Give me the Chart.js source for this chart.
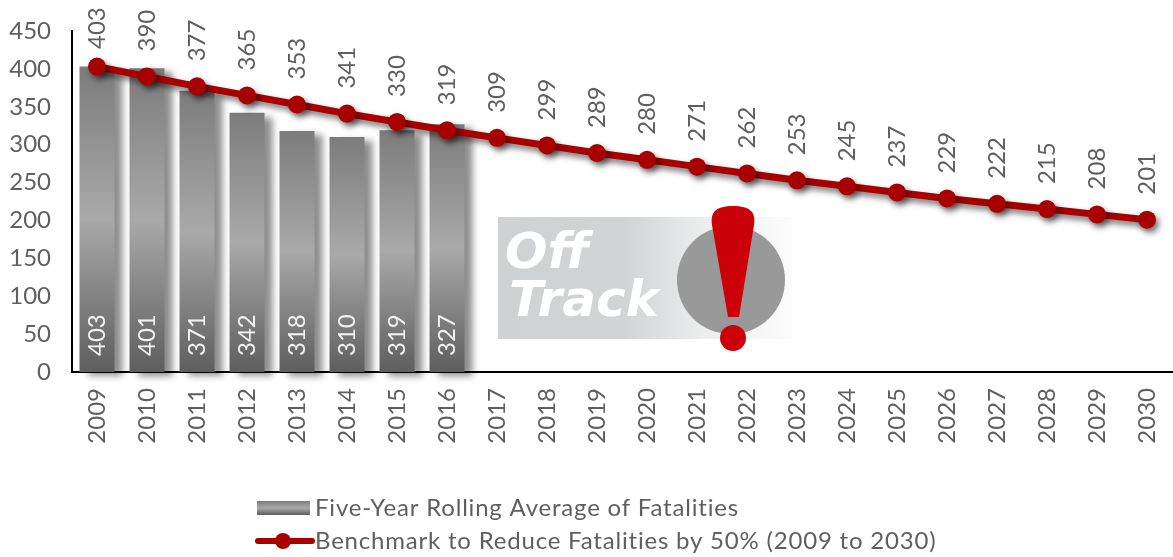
<!DOCTYPE html>
<html><head><meta charset="utf-8">
<style>html,body{margin:0;padding:0;background:#fff}#w{width:1173px;height:557px;position:relative}</style>
<script src="https://cdn.jsdelivr.net/npm/chart.js@4"></script></head>
<body><div id="w"><canvas id="c" width="1173" height="557"></canvas></div>
<script>
const years = ['2009','2010','2011','2012','2013','2014','2015','2016','2017','2018','2019','2020','2021','2022','2023','2024','2025','2026','2027','2028','2029','2030'];
const rollingAverage = [403,401,371,342,318,310,319,327];
const benchmark = [403,390,377,365,353,341,330,319,309,299,289,280,271,262,253,245,237,229,222,215,208,201];
const seriesNames = ['Five-Year Rolling Average of Fatalities','Benchmark to Reduce Fatalities by 50% (2009 to 2030)'];
const FONT = 'Lato';
const TXT = '#5f5f5f';
const RED = '#a80000';

function barGradient(c, top, bottom){
  const g = c.createLinearGradient(0, top, 0, bottom);
  g.addColorStop(0, '#7c7c7c'); g.addColorStop(0.5, '#a9a9a9'); g.addColorStop(1, '#5e5e5e');
  return g;
}
function legendBar(){
  const cv = document.createElement('canvas'); cv.width = 59; cv.height = 16;
  const c = cv.getContext('2d');
  c.fillStyle = barGradient(c, 1, 15); c.fillRect(6, 1, 53, 14);
  return cv;
}
function legendLine(){
  const cv = document.createElement('canvas'); cv.width = 69; cv.height = 18;
  const c = cv.getContext('2d');
  c.strokeStyle = RED; c.lineWidth = 6; c.lineCap = 'round';
  c.beginPath(); c.moveTo(12, 9); c.lineTo(66, 9); c.stroke();
  c.fillStyle = RED; c.beginPath(); c.arc(37, 9, 8, 0, Math.PI*2); c.fill();
  return cv;
}

const shadowPlugin = {
  id: 'shadows',
  beforeDatasetDraw(chart, args){
    const c = chart.ctx; c.save();
    if (args.index === 0){ c.shadowColor='rgba(0,0,0,.45)'; c.shadowBlur=7; c.shadowOffsetX=8; c.shadowOffsetY=4; }
    else { c.shadowColor='rgba(0,0,0,.55)'; c.shadowBlur=6; c.shadowOffsetX=3; c.shadowOffsetY=4; }
  },
  afterDatasetDraw(chart){ chart.ctx.restore(); }
};

const labelsPlugin = {
  id: 'valueLabels',
  afterDatasetsDraw(chart){
    const c = chart.ctx;
    const y = chart.scales.y;
    c.save();
    c.font = '24px ' + FONT;
    c.textBaseline = 'middle'; c.textAlign = 'left';
    chart.getDatasetMeta(0).data.forEach((el,i)=>{
      c.save(); c.translate(el.x, y.bottom - 16); c.rotate(-Math.PI/2);
      c.fillStyle = '#f2f2f2'; c.fillText(String(rollingAverage[i]), 0, 0); c.restore();
    });
    chart.getDatasetMeta(1).data.forEach((el,i)=>{
      c.save(); c.translate(el.x, Math.max(el.y - 25, 49)); c.rotate(-Math.PI/2);
      c.fillStyle = TXT; c.fillText(String(benchmark[i]), 0, 0); c.restore();
    });
    c.restore();
  }
};

const badgePlugin = {
  id: 'offTrack',
  afterDatasetsDraw(chart){
    const c = chart.ctx; c.save();
    const g = c.createLinearGradient(498, 0, 792, 0);
    g.addColorStop(0, '#d0d1d3'); g.addColorStop(0.43, '#d2d3d5');
    g.addColorStop(0.7, '#eceded'); g.addColorStop(1, '#fbfbfb');
    c.fillStyle = g; c.fillRect(498, 217, 294, 122);
    c.fillStyle = '#ffffff';
    c.font = 'italic bold 50px "DejaVu Sans"';
    c.textAlign = 'left'; c.textBaseline = 'alphabetic';
    c.fillText('Off', 505, 268);
    c.fillText('Track', 509, 316);
    c.fillStyle = '#999999';
    c.beginPath(); c.arc(731, 280, 54, 0, Math.PI*2); c.fill();
    c.fillStyle = '#cc0008';
    c.beginPath();
    c.moveTo(728, 317); c.lineTo(712, 225);
    c.bezierCurveTo(710, 212, 716, 206, 733, 206);
    c.bezierCurveTo(750, 206, 756, 212, 754, 225);
    c.lineTo(739, 317); c.closePath(); c.fill();
    c.beginPath(); c.arc(733, 338, 13, 0, Math.PI*2); c.fill();
    c.restore();
  }
};

const legendPos = {
  id: 'legendPos',
  afterInit(chart){
    const l = chart.legend, d = l.draw;
    l.draw = function(){
      chart.ctx.letterSpacing = '0.8px';
      d.apply(l, arguments);
      chart.ctx.letterSpacing = '0px';
    };
  },
  afterLayout(chart){ const l = chart.legend; l.left = 249; l.top = 487; }
};

new Chart(document.getElementById('c'), {
  data: {
    labels: years,
    datasets: [
      { type:'bar', label: seriesNames[0], data: rollingAverage, order:2, clip:false,
        barPercentage:0.7, categoryPercentage:1, borderWidth:0,
        backgroundColor(ctx){
          const y = ctx.chart.scales.y;
          if(!y || ctx.parsed===undefined || ctx.parsed.y===undefined) return '#888';
          return barGradient(ctx.chart.ctx, y.getPixelForValue(ctx.parsed.y), y.bottom);
        } },
      { type:'line', label: seriesNames[1], data: benchmark, order:1, clip:false,
        borderColor:RED, borderWidth:7, tension:0, backgroundColor:RED,
        pointRadius:9, pointBackgroundColor:RED, pointBorderColor:RED, pointBorderWidth:0 }
    ]
  },
  options: {
    responsive:false, animation:false, devicePixelRatio:1,
    layout:{ autoPadding:false, padding:{ top:31, left:0, right:1, bottom:0 } },
    plugins:{
      tooltip:{enabled:false},
      legend:{
        display:true, position:'bottom', align:'start', maxWidth:700,
        labels:{
          color:TXT, font:{family:FONT, size:24}, padding:9,
          usePointStyle:true, pointStyleWidth:45, boxHeight:24,
          generateLabels(chart){
            return [
              {text:seriesNames[0], pointStyle:legendBar(), datasetIndex:0, fontColor:TXT, lineWidth:0, hidden:false},
              {text:seriesNames[1], pointStyle:legendLine(), datasetIndex:1, fontColor:TXT, lineWidth:0, hidden:false}
            ];
          }
        }
      }
    },
    scales:{
      x:{
        offset:true,
        grid:{display:false, drawTicks:false},
        border:{display:true,color:'#000',width:2},
        ticks:{color:TXT,font:{family:FONT,size:24},minRotation:90,maxRotation:90,padding:16,autoSkip:false},
        afterFit(s){ s.height = 142; s.paddingLeft = 0; s.paddingRight = 0; }
      },
      y:{
        min:0,max:450,
        grid:{display:false, drawTicks:false},
        border:{display:true,color:'#000',width:2},
        ticks:{color:TXT,font:{family:FONT,size:24},stepSize:50,padding:21},
        afterFit(s){ s.width = 72; s.paddingTop = 0; s.paddingBottom = 0; }
      }
    }
  },
  plugins:[shadowPlugin,labelsPlugin,badgePlugin,legendPos]
});
</script></body></html>
